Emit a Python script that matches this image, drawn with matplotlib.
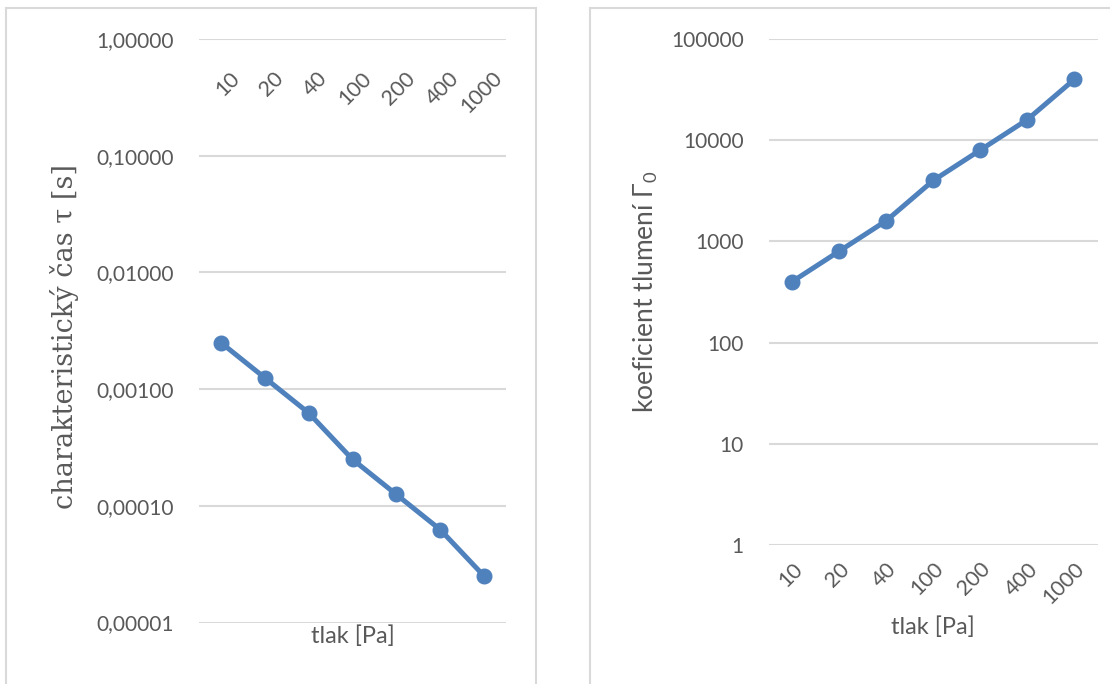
import matplotlib.pyplot as plt
import matplotlib.patches as mpatches
import matplotlib.transforms as mtransforms
from matplotlib.ticker import FuncFormatter, FixedLocator, NullLocator

plt.rcParams['font.family'] = ['Lato', 'DejaVu Sans']
plt.rcParams['mathtext.fontset'] = 'custom'
plt.rcParams['mathtext.rm'] = 'Lato'
plt.rcParams['mathtext.it'] = 'Lato'

# tlak a odpovídající hodnoty
tlak = ['10', '20', '40', '100', '200', '400', '1000']
tau = [0.0025, 0.00125, 0.000625, 0.00025, 0.000125, 0.0000625, 0.000025]
gamma0 = [400, 800, 1600, 4000, 8000, 16000, 40000]

modra = '#4F81BD'
seda_text = '#595959'
seda_mrizka = '#D9D9D9'

fig = plt.figure(figsize=(11.1, 6.84), dpi=100)

# rámečky kolem obou grafů
fig.patches.append(mpatches.Rectangle((6 / 1110, -0.05), 530 / 1110, 1.05 - 8 / 684,
                                      transform=fig.transFigure, fill=False,
                                      edgecolor=seda_mrizka, linewidth=1.5))
fig.patches.append(mpatches.Rectangle((590 / 1110, -0.05), 0.5, 1.05 - 8 / 684,
                                      transform=fig.transFigure, fill=False,
                                      edgecolor=seda_mrizka, linewidth=1.5))

ax1 = fig.add_axes([199 / 1110, 1 - 622.5 / 684, 307 / 1110, 583.5 / 684])
ax2 = fig.add_axes([768.6 / 1110, 1 - 545 / 684, 329.4 / 1110, 506 / 684])

x = list(range(len(tlak)))


def styl(ax, ymin, ymax):
    ax.set_yscale('log')
    ax.set_ylim(ymin, ymax)
    ax.set_xlim(-0.5, len(tlak) - 0.5)
    for s in ax.spines.values():
        s.set_visible(False)
    ax.yaxis.set_minor_locator(NullLocator())
    ax.grid(True, axis='y', color=seda_mrizka, linewidth=1.5)
    ax.set_axisbelow(True)
    ax.tick_params(length=0, labelsize=15, labelcolor=seda_text, pad=18)


# --- levý graf: charakteristický čas ---
ax1.plot(x, tau, color=modra, linewidth=3.6, marker='o', markersize=10.5,
         solid_capstyle='round')
styl(ax1, 1e-5, 1)
ax1.yaxis.set_major_locator(FixedLocator([1e-5, 1e-4, 1e-3, 1e-2, 1e-1, 1]))
ax1.yaxis.set_major_formatter(FuncFormatter(lambda v, p: f'{v:.5f}'.replace('.', ',')))
ax1.set_xticks([])
trans = mtransforms.blended_transform_factory(ax1.transData, ax1.transAxes)
for i, lab in enumerate(tlak):
    ax1.annotate(lab, xy=(i, 1), xycoords=trans, xytext=(6, -21),
                 textcoords='offset points', rotation=45, ha='right', va='top',
                 rotation_mode='anchor', fontsize=15.5, color=seda_text)
ax1.set_ylabel('charakteristický čas τ [s]', fontsize=19.5, color=seda_text,
               family='DejaVu Serif')
ax1.yaxis.set_label_coords(-0.39, 0.49)
ax1.set_xlabel('tlak [Pa]', fontsize=17, color=seda_text, labelpad=2)

# --- pravý graf: koeficient tlumení ---
ax2.plot(x, gamma0, color=modra, linewidth=3.6, marker='o', markersize=10.5,
         solid_capstyle='round')
styl(ax2, 1, 1e5)
ax2.yaxis.set_major_locator(FixedLocator([1, 10, 100, 1000, 10000, 100000]))
ax2.yaxis.set_major_formatter(FuncFormatter(lambda v, p: f'{v:.0f}'))
ax2.set_xticks(x)
ax2.set_xticklabels(tlak, rotation=45, ha='right', rotation_mode='anchor')
ax2.tick_params(axis='x', pad=10, labelsize=15.5)
ax2.set_ylabel('koeficient tlumení Γ$_0$', fontsize=19, color=seda_text)
ax2.yaxis.set_label_coords(-0.33, 0.5)
ax2.set_xlabel('tlak [Pa]', fontsize=17, color=seda_text, labelpad=6)

fig.savefig('out.png', dpi=100)
